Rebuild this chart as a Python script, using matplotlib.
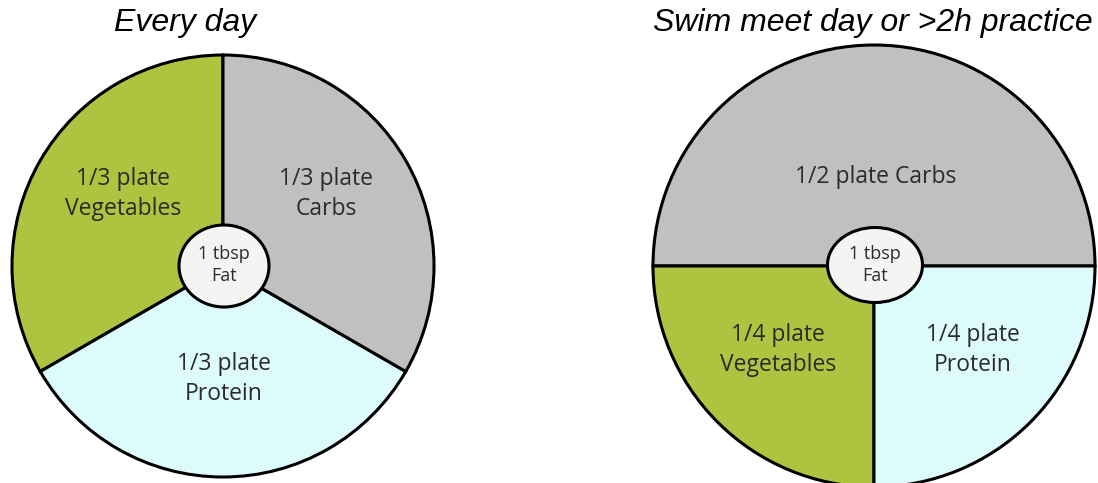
import matplotlib.pyplot as plt
from matplotlib.patches import Ellipse

# plate shares (fractions of the plate)
left_names = ["Vegetables", "Protein", "Carbs"]
left_shares = [1 / 3, 1 / 3, 1 / 3]
right_names = ["Carbs", "Vegetables", "Protein"]
right_shares = [1 / 2, 1 / 4, 1 / 4]

left_labels = ["1/3 plate\nVegetables", "1/3 plate\nProtein", "1/3 plate\nCarbs"]
right_labels = ["1/2 plate Carbs", "1/4 plate\nVegetables", "1/4 plate\nProtein"]
fat_label = "1 tbsp\nFat"
titles = ["Every day", "Swim meet day or >2h practice"]

colors = {"Vegetables": "#adc441", "Carbs": "#c0c0c0", "Protein": "#ddfbfd"}
text_color = "#2b2b2b"
W, H = 1098, 483

fig = plt.figure(figsize=(W / 100, H / 100), dpi=100)
ax = fig.add_axes([0, 0, 1, 1])

wedge_style = dict(edgecolor="black", linewidth=2.2)

# left plate
ax.pie(left_shares, colors=[colors[n] for n in left_names], startangle=90,
       counterclock=True, center=(223, H - 266), radius=211,
       wedgeprops=wedge_style, frame=True)
# right plate
ax.pie(right_shares, colors=[colors[n] for n in right_names], startangle=0,
       counterclock=True, center=(874, H - 266), radius=221,
       wedgeprops=wedge_style, frame=True)

# fat circles in the middle
ax.add_patch(Ellipse((224, H - 266), 90, 82, facecolor="#f4f4f2",
                     edgecolor="black", linewidth=2.2, zorder=5))
ax.add_patch(Ellipse((875, H - 265), 95, 75, facecolor="#f4f4f2",
                     edgecolor="black", linewidth=2.2, zorder=5))

lab_font = dict(fontfamily="Open Sans", color=text_color, ha="center",
                va="center", zorder=6)

left_pos = [(123, 194), (224, 379), (326, 194)]
for (x, y), lab in zip(left_pos, left_labels):
    ax.text(x, H - y, lab, fontsize=16.5, linespacing=1.33, **lab_font)
right_pos = [(876, 177), (778, 350), (973, 350)]
for (x, y), lab in zip(right_pos, right_labels):
    ax.text(x, H - y, lab, fontsize=16.5, linespacing=1.33, **lab_font)

ax.text(224, H - 265, fat_label, fontsize=13, linespacing=1.33, **lab_font)
ax.text(875, H - 265, fat_label, fontsize=13, linespacing=1.33, **lab_font)

# titles
ax.text(185, H - 23, titles[0], fontsize=23, style="italic",
        fontfamily="Liberation Sans", ha="center", va="center")
ax.text(873, H - 23, titles[1], fontsize=23, style="italic",
        fontfamily="Liberation Sans", ha="center", va="center")

ax.set_xlim(0, W)
ax.set_ylim(0, H)
ax.set_aspect("auto")
ax.axis("off")

fig.savefig("out.png", dpi=100, facecolor="white")
